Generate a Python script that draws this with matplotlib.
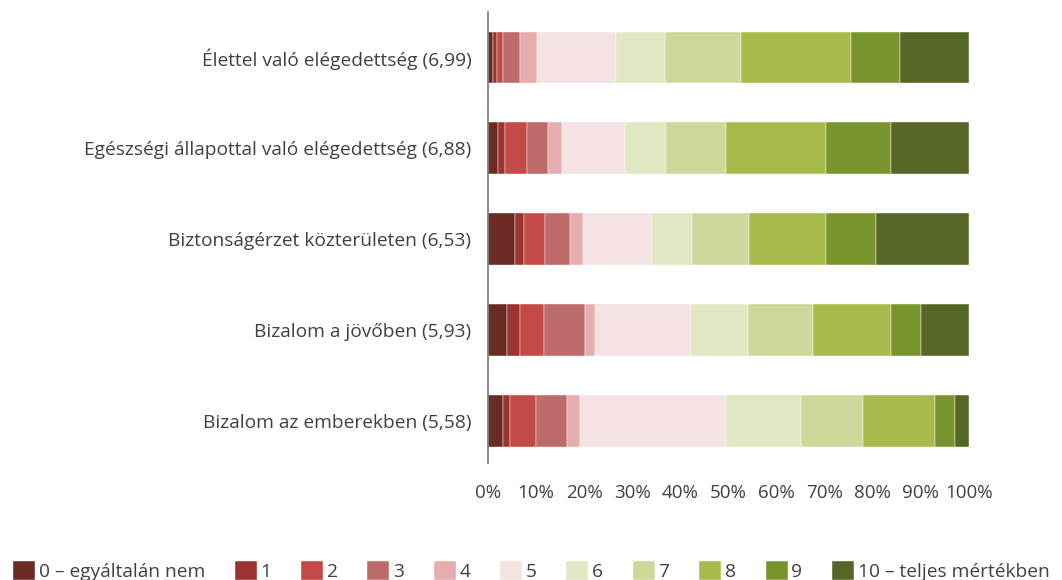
import matplotlib.pyplot as plt
import numpy as np

plt.rcParams['font.family'] = ['Open Sans', 'DejaVu Sans']

# categories (top to bottom)
categories = [
    "Élettel való elégedettség (6,99)",
    "Egészségi állapottal való elégedettség (6,88)",
    "Biztonságérzet közterületen (6,53)",
    "Bizalom a jövőben (5,93)",
    "Bizalom az emberekben (5,58)",
]

# share of answers per score (0..10), in %, one list per category
elet = [1.0, 0.9, 1.3, 3.5, 3.5, 16.5, 10.1, 15.7, 22.9, 10.2, 14.4]
egeszseg = [2.1, 1.5, 4.6, 4.2, 3.0, 13.1, 8.6, 12.3, 20.8, 13.6, 16.2]
biztonsag = [5.7, 1.7, 4.5, 5.2, 2.7, 14.3, 8.3, 11.8, 16.0, 10.4, 19.4]
jovo = [4.0, 2.7, 5.0, 8.4, 2.2, 19.8, 11.9, 13.5, 16.3, 6.3, 9.9]
emberek = [3.2, 1.4, 5.3, 6.6, 2.6, 30.3, 15.6, 12.9, 15.0, 4.2, 2.9]

score_labels = ["0 – egyáltalán nem", "1", "2", "3", "4", "5", "6", "7", "8", "9",
                "10 – teljes mértékben"]
colors = ["#6B2A24", "#9B3330", "#C34A46", "#BC6A6A", "#E5ADAE", "#F5E2E3",
          "#E0E7C3", "#CDD89B", "#A6BB4C", "#7A942D", "#566627"]

data = np.array([elet, egeszseg, biztonsag, jovo, emberek])

fig = plt.figure(figsize=(10.62, 5.8), dpi=100)
ax = fig.add_axes([488/1062, 1 - 463/580, 481/1062, 451/580])

y = np.arange(len(categories))
left = np.zeros(len(categories))
for i in range(data.shape[1]):
    ax.barh(y, data[:, i], left=left, height=0.57, color=colors[i],
            edgecolor='white', linewidth=0.3, label=score_labels[i])
    left += data[:, i]

ax.set_ylim(4.46, -0.5)
ax.set_xlim(0, 100)
ax.set_yticks(y)
ax.set_yticklabels(categories, fontsize=13.8, color='#404040')
ax.set_xticks(np.arange(0, 101, 10))
ax.set_xticklabels([f"{v}%" for v in range(0, 101, 10)], fontsize=13.5, color='#404040')
ax.tick_params(axis='both', length=0)
ax.tick_params(axis='y', pad=12)
ax.tick_params(axis='x', pad=15)

for s in ['top', 'right', 'bottom']:
    ax.spines[s].set_visible(False)
ax.spines['left'].set_color('#808080')
ax.spines['left'].set_linewidth(1.3)

fig.legend(loc='center left', bbox_to_anchor=(13/1062, 1 - 571/580), ncol=11,
           frameon=False, fontsize=13.8, handlelength=1.15, handleheight=1.15,
           handletextpad=0.2, columnspacing=1.54, borderpad=0, borderaxespad=0,
           labelcolor='#404040')

fig.savefig("out.png", dpi=100)
